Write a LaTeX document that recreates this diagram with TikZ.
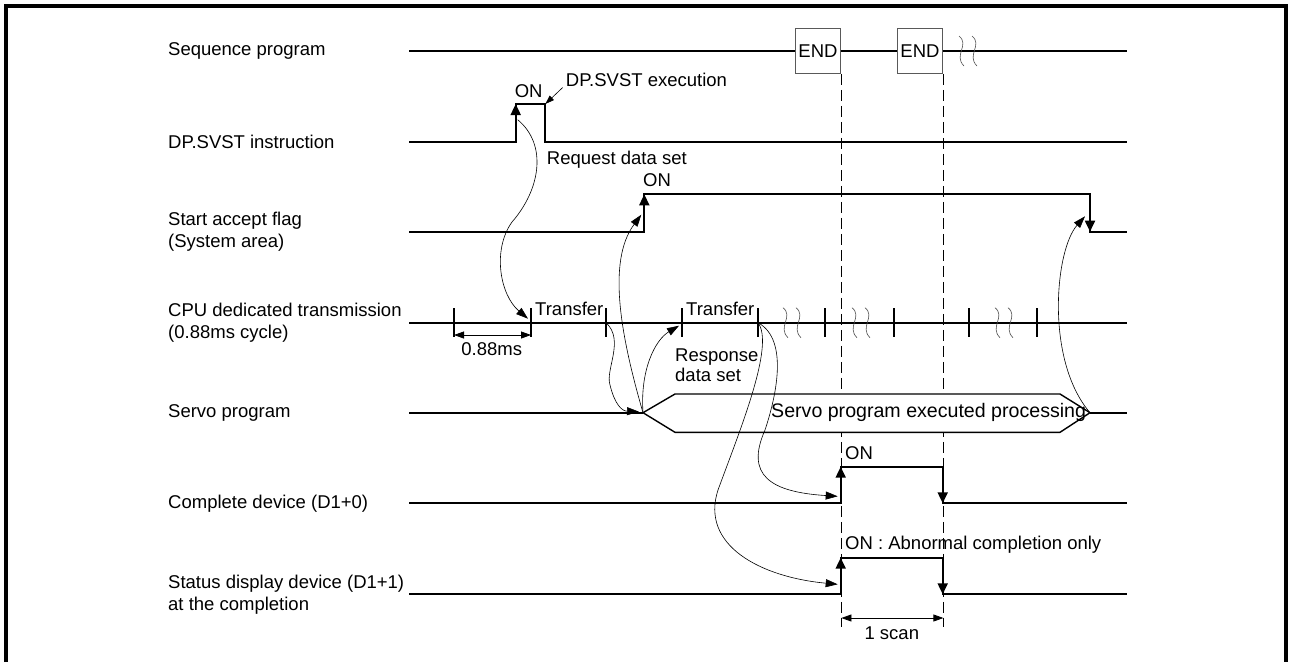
\documentclass[tikz,border=0pt]{standalone}
\usepackage{fontspec}
\setmainfont{Liberation Sans}
\usetikzlibrary{arrows.meta,calc,positioning}
\tikzset{sig/.style={line width=1.8pt},
  sigtip/.style={line width=1.8pt,-{Triangle[length=11pt,width=10pt]}},
  lnk/.style={line width=0.6pt,-{Triangle[length=12pt,width=8pt]}},
  ptr/.style={line width=0.6pt,-{Triangle[length=9pt,width=6pt]}},
  dimarr/.style={line width=0.8pt,{Triangle[length=10pt,width=7pt]}-{Triangle[length=10pt,width=7pt]}},
  endbox/.style={draw=black!65, line width=1.1pt, minimum width=45.7pt, minimum height=45pt, inner sep=0pt},
  lbl/.style={anchor=west, align=left, inner sep=0pt},
  txt/.style={inner sep=0pt, anchor=base west},
  brk/.style={line width=0.6pt, draw=black!70},
  scanline/.style={line width=0.8pt, dash pattern=on 11pt off 5pt}}

\begin{document}
\begin{tikzpicture}[x=1pt,y=-1pt,font=\fontsize{18.5}{22}\selectfont]
  \useasboundingbox (0,0) rectangle (1291,662);
  % frame, open at the bottom
  \draw[line width=4.5pt] (6,662) -- (6,6) -- (1286,6) -- (1286,662);
  % row labels and line ends
  \foreach \n/\y/\lab in {seq/50.7/{Sequence program}, dp/141.7/{DP.SVST instruction},
      acc/231.7/{Start accept flag\\(System area)},
      cpu/322.7/{CPU dedicated transmission\\(0.88ms cycle)},
      srv/412.7/{Servo program}, cmp/503.3/{Complete device (D1+0)},
      sts/594.3/{Status display device (D1+1)\\at the completion}}{
    \node[lbl] (l\n) at (168,\y) {\lab};
    \coordinate (\n0) at (409,\y);
    \coordinate (\n1) at (1127,\y);}
  % sequence program with END steps
  \node[endbox] (end1) at (818,50.7) {END};
  \node[endbox] (end2) at (920,50.7) {END};
  \draw[sig] (seq0) -- (end1) (end1) -- (end2) (end2) -- (seq1);
  \coordinate (d1) at (end1.south east |- 0,627);
  \coordinate (d2) at (end2.south east |- 0,627);
  \draw[scanline] (end1.south east) -- (d1);
  \draw[scanline] (end2.south east) -- (d2);
  % DP.SVST pulse
  \draw[sig] (dp0) -- (515.7,141.7) coordinate (dpA) |- (545.3,104) coordinate (dpB) |- (dp1);
  \draw[sigtip] (dpA) -- (dpA |- dpB);
  % flag and device pulses
  \foreach \n/\y/\a/\b/\h in {acc/231.7/644.3/1090/194.3, cmp/503.3/840.7/942.7/466.7,
      sts/594.3/840.7/942.7/557.7}{
    \draw[sig] (\n0) -- (\a,\y) coordinate (\n A) |- (\b,\h) coordinate (\n B) |- (\n1);
    \draw[sigtip] (\n A) -- (\n A |- \n B);
    \draw[sigtip] (\n B) -- (\n B |- \n1);}
  % transmission cycle
  \draw[sig] (cpu0) -- (cpu1);
  \foreach \x [count=\i] in {454,531,606,682,758,825,894,969,1037}{
    \coordinate (t\i) at (\x,322.7);
    \draw[sig] (\x,308) -- (\x,337);}
  \foreach \x/\y in {962/51,975/51,786/322.7,799/322.7,855/322.7,868/322.7,998/322.7,1011/322.7}
    \draw[brk] (\x-3,\y-15) .. controls (\x+8,\y-6) and (\x-9,\y+4) .. (\x+2,\y+15);
  % servo program
  \coordinate (sL) at (643,412.7);
  \coordinate (sR) at (1090,412.7);
  \draw[sig] (srv0) -- (sL) (sR) -- (srv1);
  \draw[line width=1.4pt, fill=white] (sL) -- (675,394) -- (1060,394) -- (sR)
    -- (1060,432.3) -- (675,432.3) -- cycle;
  \node[txt, font=\fontsize{19.6}{22}\selectfont] (srvtxt) at (771,417) {Servo program executed processing};
  % texts
  \node[txt, anchor=base] (onDp) at (528.7,97) {ON};
  \node[txt] (exe) at (565.7,86.5) {DP.SVST execution};
  \node[txt] (req) at (546.7,164.5) {Request data set};
  \node[txt] (onAcc) at (643,186.7) {ON};
  \node[txt] (tr1) at ($(t2)+(4,-7.7)$) {Transfer};
  \node[txt] (tr2) at ($(t4)+(4,-7.7)$) {Transfer};
  \node[lbl, font=\fontsize{18.5}{20}\selectfont] (resp) at (675,365.4) {Response\\data set};
  \node[txt] (onCmp) at (845,459.3) {ON};
  \node[txt] (onSts) at (845,549.3) {ON : Abnormal completion only};
  % dimensions
  \draw[dimarr] ($(t1)+(0,12.3)$) -- ($(t2)+(0,12.3)$);
  \node[txt, anchor=base] (cyc) at (491.7,355) {0.88ms};
  \draw[dimarr] ($(d1)+(0,-9)$) -- ($(d2)+(0,-9)$);
  \node[txt, anchor=base] (scan) at (891.8,639.3) {1 scan};
  % cause and effect
  \draw[ptr] ($(exe.base west)+(-3,1)$) -- (dpB);
  \draw[lnk] ($(dpA)+(2,-22)$) .. controls (548,145) and (540,190) .. (512,222)
    .. controls (492,250) and (500,295) .. ($(t2)+(-3,-4)$);
  \draw[lnk] (t3) .. controls (625,340) and (605,370) .. (610,385)
    .. controls (615,405) and (622,411) .. ($(sL)+(-4,-1)$);
  \draw[lnk] (sL) .. controls (622,340) and (606,262) .. ($(accA)+(-3,-17)$);
  \draw[lnk] (sL) .. controls (640,370) and (655,340) .. ($(t4)+(-3,3)$);
  \draw[lnk] (t5) .. controls (790,340) and (775,400) .. (765,430)
    .. controls (745,475) and (770,492) .. ($(cmpA)+(-3,-7)$);
  \draw[lnk] (t5) .. controls (775,345) and (740,430) .. (718,490)
    .. controls (700,545) and (760,577) .. ($(stsA)+(-3,-10)$);
  \draw[lnk] (sR) .. controls (1045,360) and (1055,250) .. ($(accB)+(-5,22)$);
\end{tikzpicture}
\end{document}
